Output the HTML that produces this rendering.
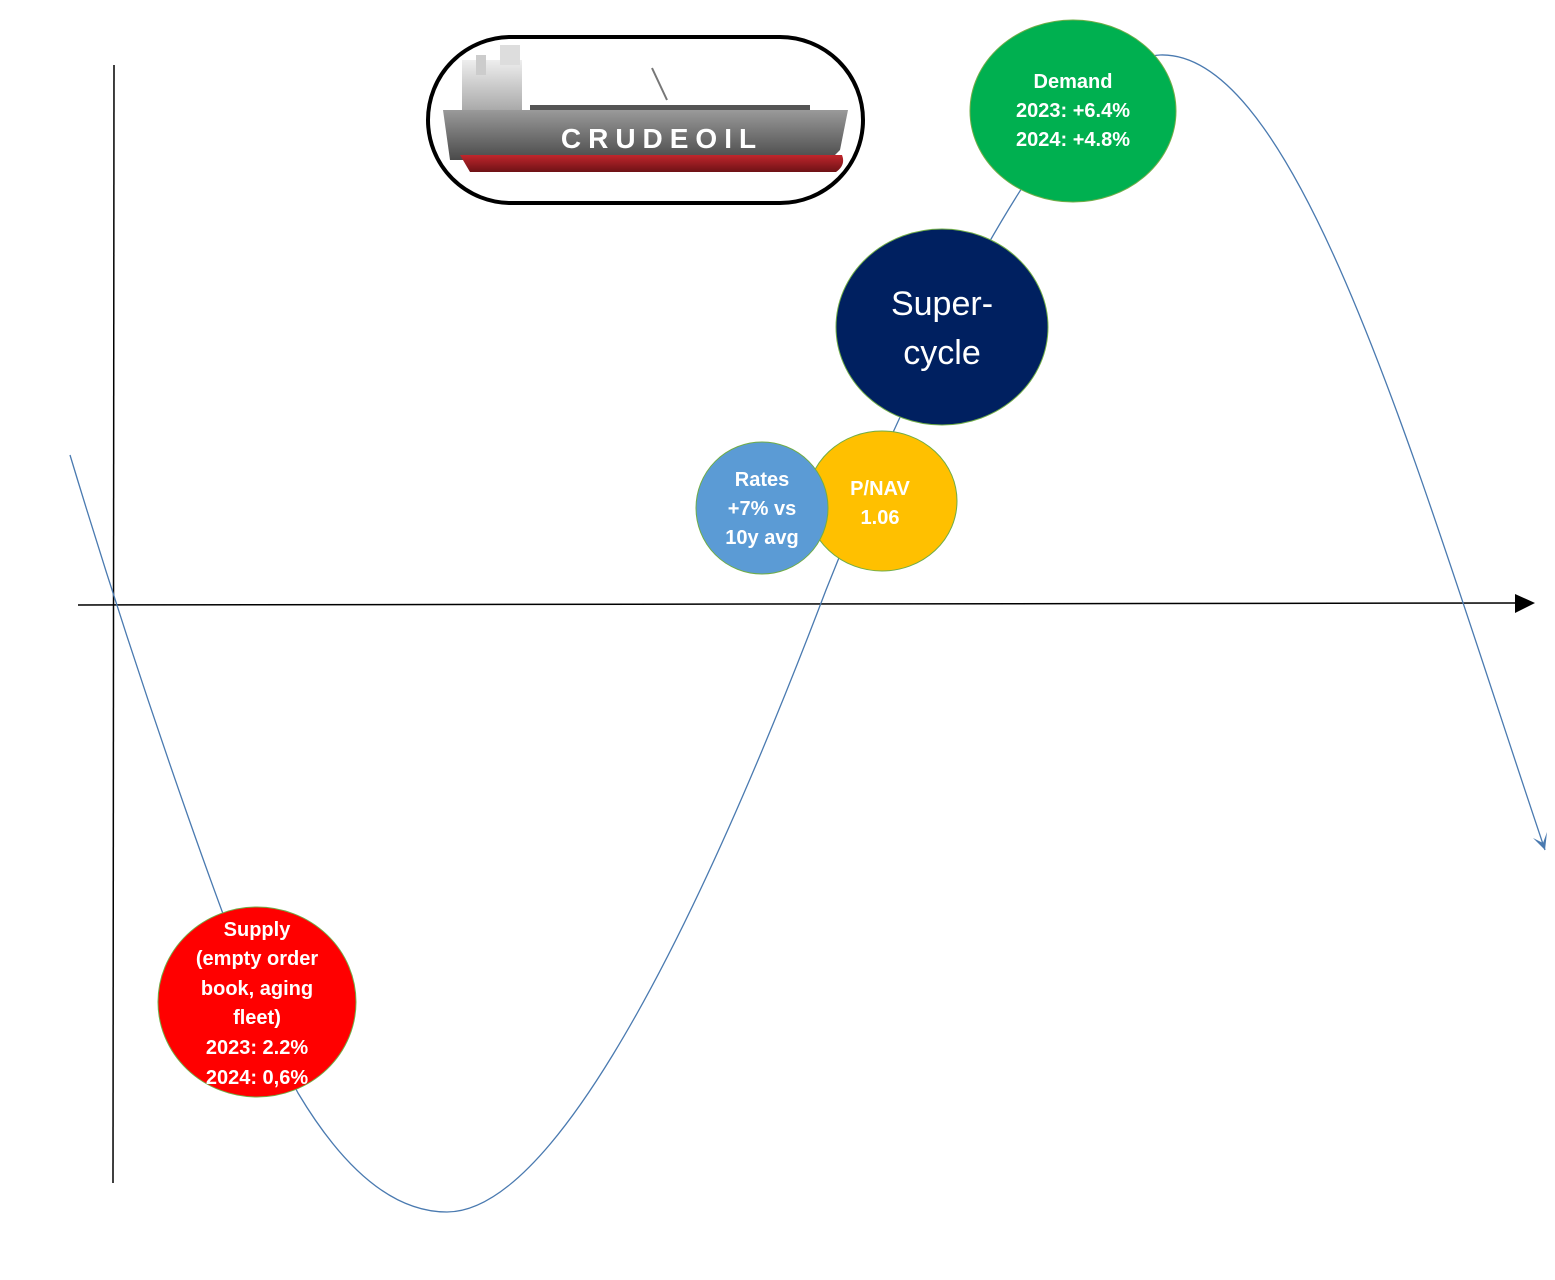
<!DOCTYPE html>
<html><head><meta charset="utf-8"><style>
body{margin:0;background:#fff;}
svg{display:block}
text{font-family:"Liberation Sans","DejaVu Sans",sans-serif;fill:#fff;text-anchor:middle}
</style></head><body>
<svg width="1555" height="1280" viewBox="0 0 1555 1280" xmlns="http://www.w3.org/2000/svg">
<defs>
<linearGradient id="hull" x1="0" y1="0" x2="0" y2="1"><stop offset="0" stop-color="#9a9a9a"/><stop offset="1" stop-color="#4a4a4a"/></linearGradient>
<linearGradient id="red" x1="0" y1="0" x2="0" y2="1"><stop offset="0" stop-color="#c0262c"/><stop offset="1" stop-color="#6e1216"/></linearGradient>
<linearGradient id="sup" x1="0" y1="0" x2="0" y2="1"><stop offset="0" stop-color="#eee"/><stop offset="1" stop-color="#aaa"/></linearGradient>
</defs>
<line x1="114" y1="65" x2="113" y2="1183" stroke="#000" stroke-width="1.5"/>
<line x1="78" y1="605" x2="1517" y2="603" stroke="#000" stroke-width="1.5"/>
<polygon points="1515,594 1535,603 1515,613" fill="#000"/>
<path d="M70,455 C135,670 245,995 298,1093 C350,1180 400,1212 447,1212 C540,1212 670,1000 826,590 C905,390 1060,60 1160,55 C1300,50 1420,480 1545,850" fill="none" stroke="#4a7ab0" stroke-width="1.3"/>
<polygon points="1533,838 1545,850 1547,832 1543,843" fill="#4a7ab0"/>
<rect x="428" y="37" width="435" height="166" rx="83" fill="#fff" stroke="#000" stroke-width="4"/>
<rect x="462" y="60" width="60" height="50" fill="url(#sup)"/>
<rect x="476" y="55" width="10" height="20" fill="#ccc"/>
<rect x="500" y="45" width="20" height="20" fill="#ddd"/>
<line x1="652" y1="68" x2="667" y2="100" stroke="#777" stroke-width="2"/>
<rect x="530" y="105" width="280" height="5" fill="#555"/>
<path d="M443,110 L848,110 L840,150 L830,160 L450,160 Z" fill="url(#hull)"/>
<path d="M460,155 L842,155 Q846,165 836,172 L470,172 Z" fill="url(#red)"/>
<text x="662" y="148" font-size="28" style="letter-spacing:7px" font-weight="bold">CRUDEOIL</text>
<ellipse cx="1073" cy="111" rx="103" ry="91" fill="#00b050" stroke="#70ad47"/>
<text font-size="20" font-weight="bold"><tspan x="1073" y="88">Demand</tspan><tspan x="1073" y="117">2023: +6.4%</tspan><tspan x="1073" y="146">2024: +4.8%</tspan></text>
<ellipse cx="942" cy="327" rx="106" ry="98" fill="#002060" stroke="#70ad47"/>
<text font-size="34"><tspan x="942" y="315">Super-</tspan><tspan x="942" y="364">cycle</tspan></text>
<ellipse cx="882" cy="501" rx="75" ry="70" fill="#ffc000" stroke="#70ad47"/>
<text font-size="20" font-weight="bold"><tspan x="880" y="495">P/NAV</tspan><tspan x="880" y="524">1.06</tspan></text>
<ellipse cx="762" cy="508" rx="66" ry="66" fill="#5b9bd5" stroke="#70ad47"/>
<text font-size="20" font-weight="bold"><tspan x="762" y="486">Rates</tspan><tspan x="762" y="515">+7% vs</tspan><tspan x="762" y="544">10y avg</tspan></text>
<ellipse cx="257" cy="1002" rx="99" ry="95" fill="#ff0000" stroke="#70ad47"/>
<text font-size="20" font-weight="bold"><tspan x="257" y="936">Supply</tspan><tspan x="257" y="965">(empty order</tspan><tspan x="257" y="995">book, aging</tspan><tspan x="257" y="1024">fleet)</tspan><tspan x="257" y="1054">2023: 2.2%</tspan><tspan x="257" y="1084">2024: 0,6%</tspan></text>
</svg>
</body></html>
